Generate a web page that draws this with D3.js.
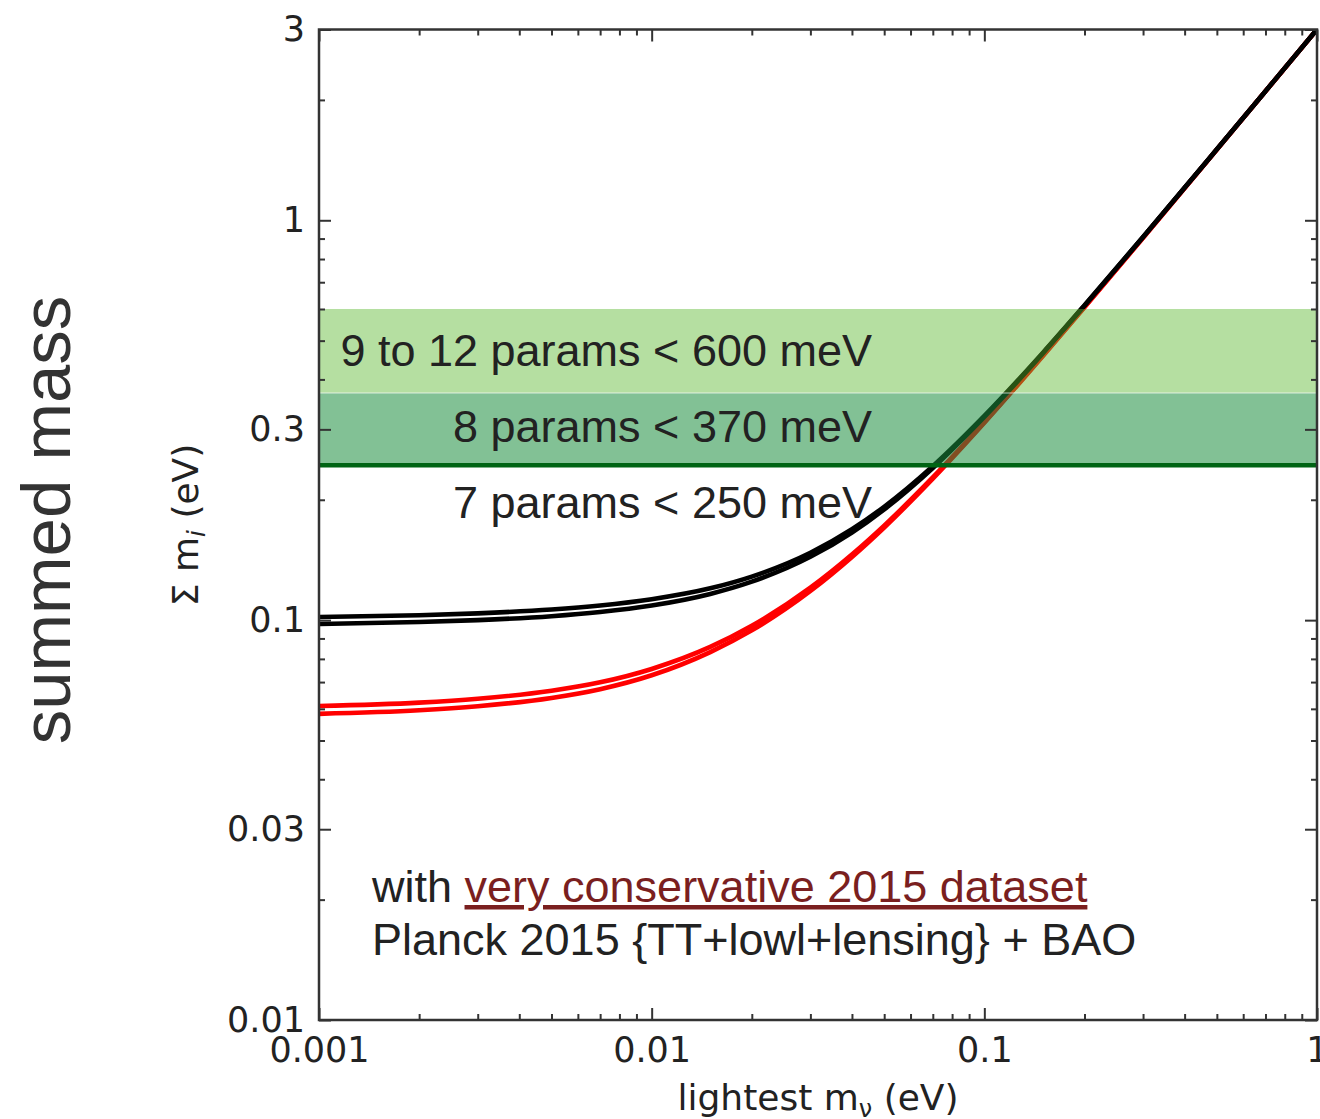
<!DOCTYPE html>
<html><head><meta charset="utf-8">
<script src="https://cdn.jsdelivr.net/npm/d3@7"></script>
<style>
html,body{margin:0;padding:0;background:#fff;overflow:hidden}
svg{display:block}
</style></head>
<body>
<svg id="chart" width="1320" height="1119"></svg>
<script>
// ---- data ----
const lightestMass = [0.001,0.002,0.003,0.005,0.007,0.01,0.015,0.02,0.03,0.04,0.05,0.07,0.1,0.15,0.2,0.3,0.5,0.7,1.0];
// inverted hierarchy (black), upper and lower edge lines
const invertedHi = [0.1018,0.1029,0.1040,0.1063,0.1088,0.1128,0.1201,0.1285,0.1474,0.1688,0.1921,0.2426,0.3241,0.4664,0.6126,0.9083,1.5050,2.1035,3.0025];
const invertedLo = [0.0978,0.0989,0.1000,0.1023,0.1048,0.1088,0.1163,0.1248,0.1440,0.1656,0.1892,0.2402,0.3223,0.4651,0.6116,0.9077,1.5047,2.1033,3.0024];
// normal hierarchy (red), upper and lower edge lines
const normalHi = [0.0610,0.0622,0.0636,0.0666,0.0699,0.0755,0.0857,0.0968,0.1206,0.1460,0.1724,0.2274,0.3128,0.4588,0.6067,0.9044,1.5027,2.1019,3.0014];
const normalLo = [0.0583,0.0595,0.0609,0.0639,0.0672,0.0728,0.0832,0.0943,0.1183,0.1439,0.1705,0.2258,0.3116,0.4580,0.6061,0.9040,1.5025,2.1017,3.0012];
// upper limits on summed mass (eV)
const limitLabels = ["9 to 12 params < 600 meV","8 params < 370 meV","7 params < 250 meV"];
const limitValues = [0.6, 0.37, 0.244];
// ticks
const xMajorTicks = [0.001,0.01,0.1,1];
const xTickLabels = ["0.001","0.01","0.1","1"];
const yMajorTicks = [3,1,0.3,0.1,0.03,0.01];
const yTickLabels = ["3","1","0.3","0.1","0.03","0.01"];

// ---- layout ----
const svg = d3.select("#chart");
const L = 319, R = 1317, T = 29.5, B = 1020;
const x = d3.scaleLog().domain([0.001,1]).range([L,R]);
const y = d3.scaleLog().domain([0.01,3]).range([B,T]);

const xMinor = [], yMinor = [];
[0.001,0.01,0.1].forEach(d=>{for(let k=2;k<=9;k++) xMinor.push(d*k);});
[0.01,0.1,1].forEach(d=>{for(let k=2;k<=9;k++){ if(k!==3 && d*k<=3) yMinor.push(d*k);} });

// clip
svg.append("defs").append("clipPath").attr("id","plotclip")
  .append("rect").attr("x",L).attr("y",T).attr("width",R-L).attr("height",B-T);

const plot = svg.append("g").attr("clip-path","url(#plotclip)");

// curves
const line = d3.line().x((d,i)=>x(lightestMass[i])).y(d=>y(d)).curve(d3.curveMonotoneX);
[[normalHi,"#ff0000"],[normalLo,"#ff0000"],[invertedHi,"#000"],[invertedLo,"#000"]].forEach(([arr,c])=>{
  plot.append("path").datum(arr).attr("d",line).attr("fill","none")
    .attr("stroke",c).attr("stroke-width",4.6);
});

// bands
plot.append("rect").attr("x",L).attr("width",R-L)
  .attr("y",y(limitValues[0])).attr("height",y(limitValues[1])-y(limitValues[0]))
  .attr("fill","rgb(92,184,47)").attr("fill-opacity",0.45);
plot.append("rect").attr("x",L).attr("width",R-L)
  .attr("y",y(limitValues[1])).attr("height",y(limitValues[2])-y(limitValues[1]))
  .attr("fill","rgb(28,142,62)").attr("fill-opacity",0.55);
plot.append("line").attr("x1",L).attr("x2",R).attr("y1",y(limitValues[1])).attr("y2",y(limitValues[1]))
  .attr("stroke","#fff").attr("stroke-opacity",0.35).attr("stroke-width",2);
plot.append("line").attr("x1",L).attr("x2",R).attr("y1",y(limitValues[2])).attr("y2",y(limitValues[2]))
  .attr("stroke","rgb(0,100,20)").attr("stroke-width",4.5);

// axes
const axisColor = "#333";
function styleAxis(g){
  g.select(".domain").remove();
  g.selectAll(".tick line").attr("stroke",axisColor).attr("stroke-width",2);
  g.selectAll("text").attr("font-family","'DejaVu Sans'").attr("font-size",35).attr("fill","#222");
}
svg.append("g").attr("transform",`translate(0,${B})`)
  .call(d3.axisBottom(x).tickValues(xMajorTicks).tickFormat((d,i)=>xTickLabels[i]).tickSize(-12).tickPadding(17).tickSizeOuter(0))
  .call(styleAxis);
svg.append("g").attr("transform",`translate(0,${B})`)
  .call(d3.axisBottom(x).tickValues(xMinor).tickFormat("").tickSize(-6).tickSizeOuter(0)).call(styleAxis);
svg.append("g").attr("transform",`translate(0,${T})`)
  .call(d3.axisTop(x).tickValues(xMajorTicks).tickFormat("").tickSize(-12).tickSizeOuter(0)).call(styleAxis);
svg.append("g").attr("transform",`translate(0,${T})`)
  .call(d3.axisTop(x).tickValues(xMinor).tickFormat("").tickSize(-6).tickSizeOuter(0)).call(styleAxis);
svg.append("g").attr("transform",`translate(${L},0)`)
  .call(d3.axisLeft(y).tickValues(yMajorTicks).tickFormat((d,i)=>yTickLabels[i]).tickSize(-12).tickPadding(14).tickSizeOuter(0))
  .call(styleAxis);
svg.append("g").attr("transform",`translate(${L},0)`)
  .call(d3.axisLeft(y).tickValues(yMinor).tickFormat("").tickSize(-6).tickSizeOuter(0)).call(styleAxis);
svg.append("g").attr("transform",`translate(${R},0)`)
  .call(d3.axisRight(y).tickValues(yMajorTicks).tickFormat("").tickSize(-12).tickSizeOuter(0)).call(styleAxis);
svg.append("g").attr("transform",`translate(${R},0)`)
  .call(d3.axisRight(y).tickValues(yMinor).tickFormat("").tickSize(-6).tickSizeOuter(0)).call(styleAxis);

// frame
svg.append("rect").attr("x",L).attr("y",T).attr("width",R-L).attr("height",B-T)
  .attr("fill","none").attr("stroke",axisColor).attr("stroke-width",2.5);

// band labels
const labelBaselines = [366, 442, 518];
limitLabels.forEach((t,i)=>{
  svg.append("text").attr("x",872).attr("y",labelBaselines[i]).attr("text-anchor","end")
    .attr("font-family","'Liberation Sans', Arial, sans-serif").attr("font-size",45).attr("fill","#222").text(t);
});

// dataset note
const note = svg.append("text").attr("x",372).attr("y",902)
  .attr("font-family","'Liberation Sans', Arial, sans-serif").attr("font-size",45).attr("fill","#222");
note.append("tspan").text("with ");
note.append("tspan").attr("fill","#7a1f1f").attr("text-decoration","underline").text("very conservative 2015 dataset");
svg.append("text").attr("x",372).attr("y",955)
  .attr("font-family","'Liberation Sans', Arial, sans-serif").attr("font-size",45).attr("fill","#222")
  .text("Planck 2015 {TT+lowl+lensing} + BAO");

// axis titles
const xt = svg.append("text").attr("x",818).attr("y",1110).attr("text-anchor","middle")
  .attr("font-family","'DejaVu Sans'").attr("font-size",36).attr("fill","#222");
xt.append("tspan").text("lightest m");
xt.append("tspan").attr("font-size",24).attr("dy",7).text("ν");
xt.append("tspan").attr("dy",-7).text(" (eV)");

const yt = svg.append("text").attr("transform","translate(198,525) rotate(-90)").attr("text-anchor","middle")
  .attr("font-family","'DejaVu Sans'").attr("font-size",36).attr("fill","#222");
yt.append("tspan").text("Σ m");
yt.append("tspan").attr("font-size",25).attr("dy",7).attr("font-style","italic").text("i");
yt.append("tspan").attr("dy",-7).text(" (eV)");

svg.append("text").attr("transform","translate(70,520) rotate(-90)").attr("text-anchor","middle")
  .attr("font-family","'Liberation Sans', Arial, sans-serif").attr("font-size",69).attr("fill","#333")
  .text("summed mass");
</script>
</body></html>
